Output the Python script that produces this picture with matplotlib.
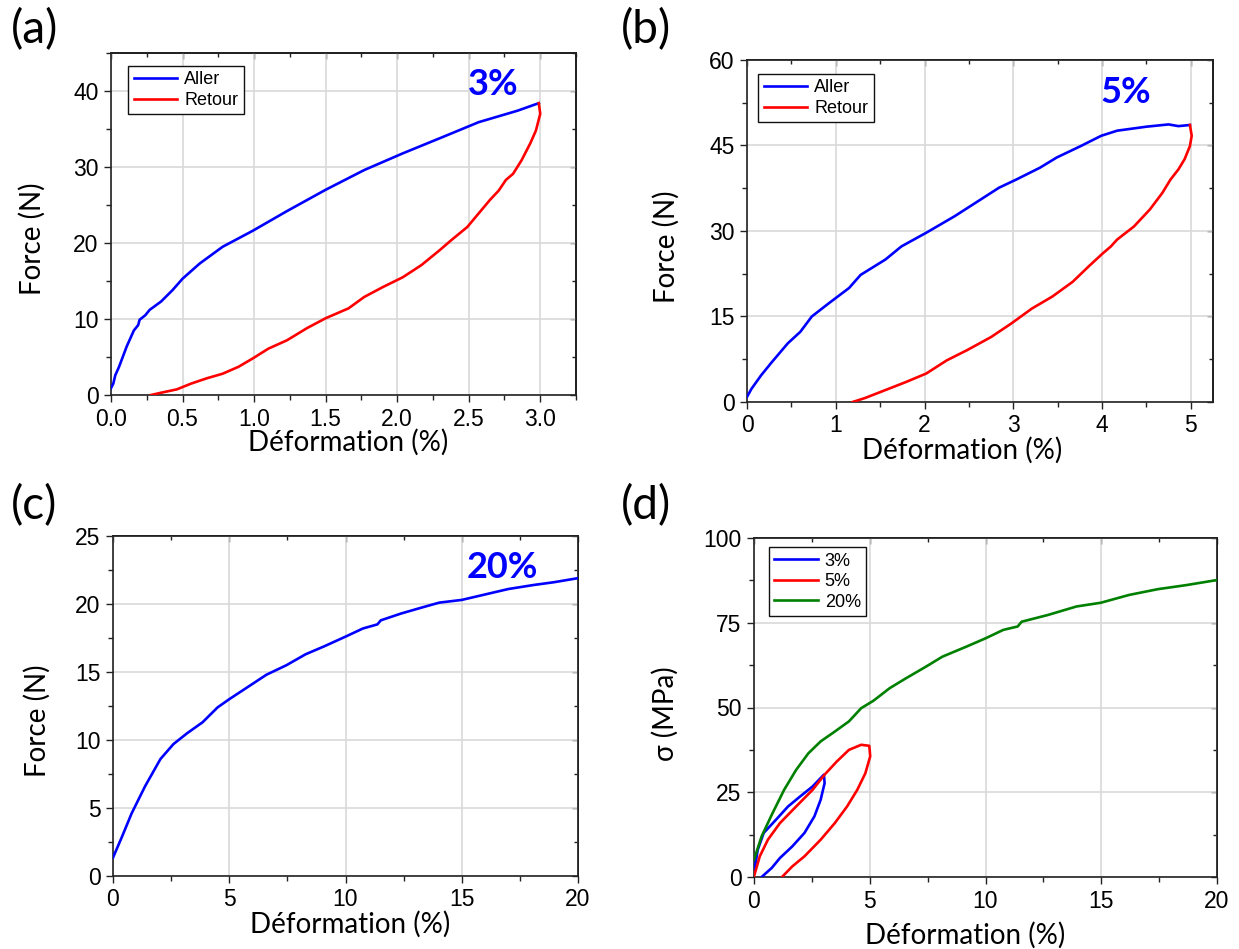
import matplotlib
matplotlib.use("Agg")
import matplotlib.pyplot as plt
from matplotlib.ticker import MultipleLocator

plt.rcParams['font.family'] = ['Liberation Sans', 'DejaVu Sans']

# ---------------- data ----------------
# (a) 3 % cycle
a_aller_x = [0.0, 0.016, 0.03, 0.056, 0.11, 0.16, 0.19, 0.20, 0.24, 0.27, 0.35, 0.43, 0.50,
             0.62, 0.78, 0.99, 1.23, 1.50, 1.77, 2.04, 2.30, 2.57, 2.84, 2.99]
a_aller_y = [0.9, 1.5, 2.6, 3.7, 6.4, 8.5, 9.2, 9.9, 10.5, 11.2, 12.3, 13.8, 15.3,
             17.3, 19.5, 21.6, 24.2, 27.0, 29.6, 31.8, 33.8, 35.9, 37.4, 38.4]
a_retour_x = [2.99, 3.00, 2.97, 2.93, 2.87, 2.81, 2.76, 2.71, 2.65, 2.57, 2.49, 2.38, 2.30,
              2.17, 2.04, 1.90, 1.77, 1.66, 1.50, 1.37, 1.23, 1.10, 0.99, 0.89, 0.78, 0.67,
              0.56, 0.46, 0.35, 0.28]
a_retour_y = [38.4, 37.0, 34.8, 33.1, 30.9, 29.1, 28.3, 26.9, 25.7, 23.9, 22.1, 20.4, 19.1,
              17.1, 15.5, 14.2, 12.9, 11.4, 10.1, 8.8, 7.2, 6.1, 4.8, 3.7, 2.8, 2.2,
              1.5, 0.74, 0.3, 0.0]

# (b) 5 % cycle
b_aller_x = [0.0, 0.05, 0.16, 0.28, 0.46, 0.60, 0.73, 0.92, 1.15, 1.28, 1.56, 1.74, 2.02,
             2.34, 2.57, 2.84, 3.03, 3.30, 3.49, 3.76, 3.99, 4.17, 4.50, 4.75, 4.86, 4.99]
b_aller_y = [0.9, 2.3, 4.7, 7.0, 10.3, 12.3, 15.0, 17.3, 20.0, 22.3, 25.0, 27.3, 29.7,
             32.6, 34.9, 37.6, 39.0, 41.1, 42.9, 44.9, 46.7, 47.6, 48.3, 48.7, 48.4, 48.6]
b_retour_x = [4.99, 5.01, 4.99, 4.93, 4.86, 4.77, 4.68, 4.54, 4.36, 4.17, 4.10, 4.01, 3.85,
              3.67, 3.44, 3.21, 2.98, 2.75, 2.48, 2.25, 2.02, 1.79, 1.56, 1.33, 1.19]
b_retour_y = [48.6, 46.7, 44.9, 42.6, 40.8, 39.0, 36.7, 33.8, 30.8, 28.5, 27.3, 26.1, 23.8,
              21.1, 18.5, 16.4, 13.8, 11.4, 9.1, 7.3, 5.0, 3.5, 2.1, 0.7, 0.0]

# (c) 20 % traction
c_x = [0.0, 0.39, 0.8, 1.38, 2.04, 2.6, 3.19, 3.85, 4.5, 5.0, 5.8, 6.6, 7.46, 8.28, 9.1,
       10.0, 10.75, 11.37, 11.52, 12.39, 13.2, 14.03, 15.0, 16.0, 17.0, 18.1, 18.96, 20.0]
c_y = [1.35, 2.9, 4.6, 6.6, 8.6, 9.7, 10.5, 11.3, 12.4, 13.0, 13.9, 14.8, 15.5, 16.3, 16.9,
       17.6, 18.2, 18.5, 18.8, 19.3, 19.7, 20.1, 20.3, 20.7, 21.1, 21.4, 21.6, 21.9]

# (d) stress curves
d3_x = [0.0, 0.16, 0.42, 0.95, 1.47, 2.0, 2.53, 3.02, 3.05, 2.88, 2.61, 2.18, 1.65, 1.12,
        0.77, 0.33]
d3_y = [1.2, 8.0, 13.0, 16.9, 20.8, 23.8, 26.7, 30.2, 27.7, 22.8, 17.9, 13.0, 9.0, 5.6,
        2.7, 0.0]
d5_x = [0.0, 0.25, 0.6, 1.12, 1.82, 2.53, 3.05, 3.58, 4.1, 4.63, 4.98, 5.02, 4.81, 4.46,
        4.02, 3.49, 2.88, 2.18, 1.65, 1.21]
d5_y = [0.2, 6.1, 11.0, 15.9, 20.8, 25.7, 30.2, 34.1, 37.5, 39.0, 38.7, 35.6, 30.6, 25.7,
        20.8, 15.9, 11.0, 6.1, 3.1, 0.0]
d20_x = [0.0, 0.33, 0.77, 1.3, 1.82, 2.35, 2.88, 3.49, 4.1, 4.63, 5.16, 5.86, 6.56, 7.44,
         8.14, 9.19, 10.0, 10.77, 11.39, 11.56, 12.7, 13.93, 14.98, 16.2, 17.44, 18.67, 20.0]
d20_y = [5.1, 12.0, 18.4, 25.7, 31.6, 36.5, 40.0, 42.9, 45.9, 49.8, 52.0, 55.7, 58.6, 62.1,
         65.0, 68.0, 70.4, 72.9, 73.9, 75.3, 77.3, 79.8, 80.9, 83.2, 84.9, 86.1, 87.6]

BLUE = '#0000ff'
RED = '#ff0000'
GREEN = '#008000'
LW = 1.9
LABEL_FONT = ['Lato', 'DejaVu Sans']

fig = plt.figure(figsize=(12.39, 9.49), dpi=100)
W, H = 1239.0, 949.0


def make_axes(l, r, t, b):
    return fig.add_axes([l / W, 1 - b / H, (r - l) / W, (b - t) / H])


def style(ax, xlim, ylim, xmaj, xmin, ymaj, ymin, xfmt=None):
    ax.set_xlim(*xlim)
    ax.set_ylim(*ylim)
    ax.xaxis.set_major_locator(MultipleLocator(xmaj))
    ax.xaxis.set_minor_locator(MultipleLocator(xmin))
    ax.yaxis.set_major_locator(MultipleLocator(ymaj))
    ax.yaxis.set_minor_locator(MultipleLocator(ymin))
    if xfmt:
        ax.xaxis.set_major_formatter(plt.FormatStrFormatter(xfmt))
    ax.grid(True, which='major', color='#d9d9d9', lw=1.2, zorder=0)
    ax.set_axisbelow(True)
    for s in ax.spines.values():
        s.set_linewidth(1.2)
        s.set_color('#222222')
    ax.tick_params(which='both', direction='out', top=False, right=False,
                   color='#222222', width=1.0, labelsize=16.5, pad=4)
    ax.tick_params(which='major', length=5)
    ax.tick_params(which='minor', length=3.5)
    sec_x = ax.secondary_xaxis('top')
    sec_x.xaxis.set_major_locator(MultipleLocator(xmaj))
    sec_x.xaxis.set_minor_locator(MultipleLocator(xmin))
    sec_x.tick_params(which='both', direction='in', labeltop=False, color='#222222', width=1.0)
    sec_x.tick_params(which='major', length=4)
    sec_x.tick_params(which='minor', length=3)
    sec_x.spines['top'].set_linewidth(1.2)
    sec_y = ax.secondary_yaxis('right')
    sec_y.yaxis.set_major_locator(MultipleLocator(ymaj))
    sec_y.yaxis.set_minor_locator(MultipleLocator(ymin))
    sec_y.tick_params(which='both', direction='in', labelright=False, color='#222222', width=1.0)
    sec_y.tick_params(which='major', length=4)
    sec_y.tick_params(which='minor', length=3)
    sec_y.spines['right'].set_linewidth(1.2)


def labels(ax, xl, yl, xpos, ypos):
    ax.set_xlabel(xl, family=LABEL_FONT, fontsize=20)
    ax.set_ylabel(yl, family=LABEL_FONT, fontsize=20)
    ax.xaxis.label.set_va('center')
    ax.yaxis.label.set_va('center')
    ax.xaxis.set_label_coords(*xpos)
    ax.yaxis.set_label_coords(*ypos)


def legend(ax, anchor):
    leg = ax.legend(loc='upper left', bbox_to_anchor=anchor, fontsize=13,
                    frameon=True, fancybox=False, framealpha=1, edgecolor='#111111',
                    handlelength=2.4, handletextpad=0.4, borderpad=0.3,
                    labelspacing=0.2, borderaxespad=0)
    leg.get_frame().set_linewidth(1.0)


# ---- (a)
ax = make_axes(111, 576, 53, 395)
ax.plot(a_aller_x, a_aller_y, color=BLUE, lw=LW, label='Aller', zorder=3)
ax.plot(a_retour_x, a_retour_y, color=RED, lw=LW, label='Retour', zorder=3)
style(ax, (0, 3.25), (0, 45), 0.5, 0.25, 10, 5, xfmt='%.1f')
labels(ax, 'Déformation (%)', 'Force (N)', (0.51, -0.137), (-0.17, 0.456))
legend(ax, (0.037, 0.962))
ax.text(2.67, 40.9, '3%', color=BLUE, fontsize=26, fontweight='bold', family=LABEL_FONT,
        ha='center', va='center')

# ---- (b)
ax = make_axes(747, 1213, 60, 402)
ax.plot(b_aller_x, b_aller_y, color=BLUE, lw=LW, label='Aller', zorder=3)
ax.plot(b_retour_x, b_retour_y, color=RED, lw=LW, label='Retour', zorder=3)
style(ax, (0, 5.25), (0, 60), 1, 0.5, 15, 7.5)
labels(ax, 'Déformation (%)', 'Force (N)', (0.461, -0.14), (-0.174, 0.453))
legend(ax, (0.024, 0.959))
ax.text(4.27, 54.3, '5%', color=BLUE, fontsize=26, fontweight='bold', family=LABEL_FONT,
        ha='center', va='center')

# ---- (c)
ax = make_axes(113, 578, 536, 876)
ax.plot(c_x, c_y, color=BLUE, lw=LW, zorder=3)
style(ax, (0, 20), (0, 25), 5, 2.5, 5, 2.5)
labels(ax, 'Déformation (%)', 'Force (N)', (0.51, -0.141), (-0.163, 0.456))
ax.text(16.75, 22.7, '20%', color=BLUE, fontsize=26, fontweight='bold', family=LABEL_FONT,
        ha='center', va='center')

# ---- (d)
ax = make_axes(754, 1217, 538, 877)
ax.plot(d3_x, d3_y, color=BLUE, lw=LW, label='3%', zorder=3)
ax.plot(d5_x, d5_y, color=RED, lw=LW, label='5%', zorder=3)
ax.plot(d20_x, d20_y, color=GREEN, lw=LW, label='20%', zorder=3)
style(ax, (0, 20), (0, 100), 5, 2.5, 25, 12.5)
labels(ax, 'Déformation (%)', 'σ (MPa)', (0.456, -0.171), (-0.192, 0.481))
legend(ax, (0.032, 0.973))

# panel letters
for txt, x, y in [('(a)', 35, 30), ('(b)', 646, 30), ('(c)', 34, 506), ('(d)', 646, 506)]:
    fig.text(x / W, 1 - y / H, txt, fontsize=33, family=LABEL_FONT, ha='center', va='center')

fig.savefig('out.png', dpi=100)
